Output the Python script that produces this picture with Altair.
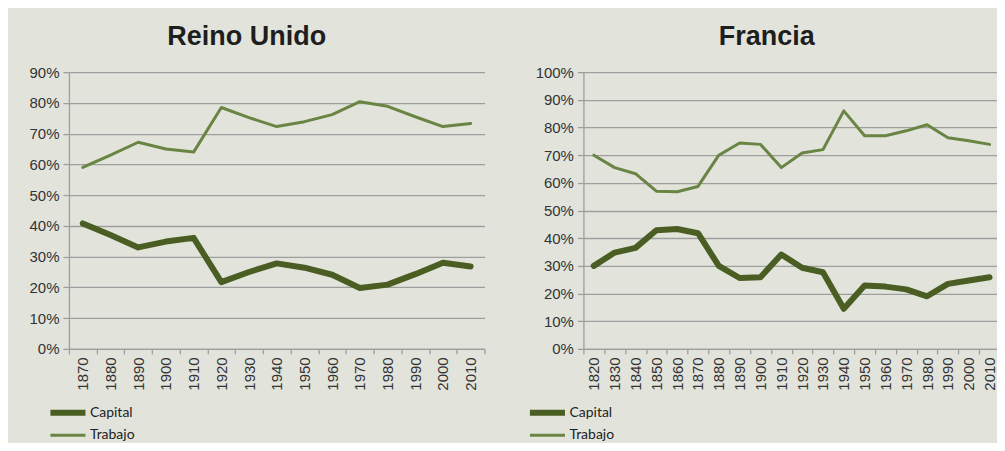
import altair as alt
import pandas as pd

series = ["Capital", "Trabajo"]
colors = ["#4a5d22", "#698443"]
widths = [6, 3]

uk_years = [1870, 1880, 1890, 1900, 1910, 1920, 1930, 1940, 1950, 1960, 1970, 1980, 1990, 2000, 2010]
uk_capital = [0.408, 0.370, 0.330, 0.349, 0.361, 0.217, 0.250, 0.278, 0.264, 0.241, 0.198, 0.209, 0.243, 0.280, 0.268]
uk_trabajo = [0.590, 0.630, 0.672, 0.650, 0.640, 0.785, 0.752, 0.723, 0.739, 0.762, 0.804, 0.789, 0.755, 0.723, 0.733]

fr_years = [1820, 1830, 1840, 1850, 1860, 1870, 1880, 1890, 1900, 1910, 1920, 1930, 1940, 1950, 1960, 1970, 1980, 1990, 2000, 2010]
fr_capital = [0.300, 0.348, 0.365, 0.429, 0.433, 0.418, 0.300, 0.256, 0.259, 0.341, 0.293, 0.277, 0.145, 0.229, 0.225, 0.215, 0.190, 0.235, 0.247, 0.259]
fr_trabajo = [0.700, 0.655, 0.633, 0.570, 0.568, 0.587, 0.700, 0.744, 0.739, 0.655, 0.708, 0.720, 0.860, 0.770, 0.770, 0.788, 0.810, 0.763, 0.752, 0.739]

uk_ticks = [0, 0.1, 0.2, 0.3, 0.4, 0.5, 0.6, 0.7, 0.8, 0.9]
fr_ticks = [0, 0.1, 0.2, 0.3, 0.4, 0.5, 0.6, 0.7, 0.8, 0.9, 1.0]


def long_df(years, capital, trabajo):
    rows = []
    for y, c in zip(years, capital):
        rows.append({"anio": str(y), "serie": "Capital", "valor": c})
    for y, t in zip(years, trabajo):
        rows.append({"anio": str(y), "serie": "Trabajo", "valor": t})
    return pd.DataFrame(rows)


GRID = "#9e9e9e"
LABEL = "#333333"
LEGEND_SYMBOL = "M-1.95,0H1.95"


def panel(df, years, title, ymax, ticks, width, legend_x, title_dx):
    legend = alt.Legend(
        title=None, orient="none", legendX=legend_x, legendY=329,
        symbolType=LEGEND_SYMBOL, symbolSize=324, labelFont="Lato",
        labelFontSize=14, labelColor="#222222", labelOffset=10,
        rowPadding=0, direction="vertical",
    )
    return alt.Chart(df).mark_line(strokeCap="round", strokeJoin="round").encode(
        x=alt.X("anio:O", title=None, sort=[str(y) for y in years],
                scale=alt.Scale(type="band", paddingInner=0, paddingOuter=0),
                bandPosition=0.5,
                axis=alt.Axis(labelAngle=-90, tickBand="extent", grid=False,
                              tickSize=5, labelPadding=3)),
        y=alt.Y("valor:Q", title=None,
                scale=alt.Scale(domain=[0, ymax], nice=False),
                axis=alt.Axis(format=".0%", values=ticks, grid=True, tickSize=6,
                              labelPadding=4, minExtent=50, maxExtent=50)),
        color=alt.Color("serie:N", scale=alt.Scale(domain=series, range=colors), legend=legend),
        strokeWidth=alt.StrokeWidth("serie:N", scale=alt.Scale(domain=series, range=widths), legend=legend),
    ).properties(
        width=width, height=277,
        title=alt.TitleParams(text=title, fontSize=27, font="Liberation Sans", fontWeight="bold",
                              color="#1e1e1e", anchor="middle", frame="group", dx=title_dx, offset=14),
    )


left = panel(long_df(uk_years, uk_capital, uk_trabajo), uk_years, "Reino Unido", 0.9, uk_ticks, 416, -13, -30)
right = panel(long_df(fr_years, fr_capital, fr_trabajo), fr_years, "Francia", 1.0, fr_ticks, 417, -48, -25)

chart = alt.hconcat(left, right, spacing=48).resolve_scale(
    x="independent", y="independent", color="independent", strokeWidth="independent"
).resolve_legend(color="independent", strokeWidth="independent").configure(
    background="#e2e4dc",
    padding={"left": 11, "top": 15, "right": -4, "bottom": 0},
).configure_view(stroke=None).configure_axis(
    domainColor=GRID, gridColor=GRID, tickColor=GRID, domainWidth=1.3, gridWidth=1.3, tickWidth=1.3,
    labelFont="Liberation Sans", labelFontSize=15, labelColor=LABEL,
)

chart.save("out.html", embed_options={"renderer": "svg", "actions": False})
